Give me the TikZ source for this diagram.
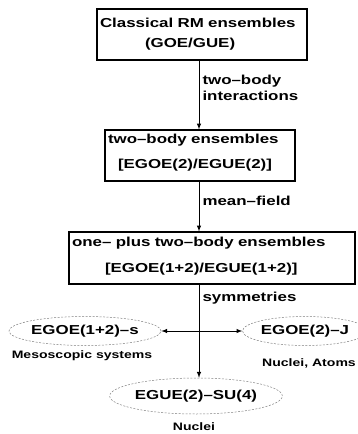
\documentclass[tikz,border=0pt]{standalone}
\usepackage{fontspec}
\setmainfont[FakeStretch=1.3]{Liberation Sans}
\usepackage{tikz}
\usetikzlibrary{arrows}
\usetikzlibrary{arrows.meta}
\usetikzlibrary{shapes.geometric}
\usetikzlibrary{positioning}
\tikzset{>=latex}
\tikzstyle{box} = [draw, line width = 1.2pt, align = left, inner xsep = 3pt, inner ysep = 0pt, font = \bfseries\fontsize{13}{15}\selectfont]
\tikzstyle{oval} = [draw = gray, ellipse, dash pattern = on 2pt off 1.5pt, line width = .5pt, inner sep = 0, font = \bfseries\fontsize{13}{15}\selectfont]
\tikzstyle{lbl} = [draw = none, align = left, inner xsep = 3pt, inner ysep = 1pt, font = \bfseries\fontsize{13}{15}\selectfont]
\tikzstyle{note} = [draw = none, inner sep = 1pt, font = \bfseries\fontsize{10.8}{12}\selectfont]
\tikzstyle{flow} = [-latex, line width = 1pt]

\begin{document}
\begin{tikzpicture}[x = 1pt, y = -1pt]
\useasboundingbox (0, 0) rectangle (358, 434);
\coordinate (spine) at (199, 0);
% the three ensemble boxes
\node [box, text width = 204pt, minimum height = 51pt] (rm) at (202, 34.5) {Classical RM ensembles\\[5pt]\hspace*{45pt}(GOE/GUE)};
\node [box, text width = 184pt, minimum height = 51pt] (two) at (200, 155.5) {two--body ensembles\\[10pt]\hspace*{10pt}[EGOE(2)/EGUE(2)]\rule[-8pt]{0pt}{8pt}};
\node [box, text width = 280pt, minimum height = 52pt] (opt) at (212, 258) {one-- plus two--body ensembles\\[11pt]\hspace*{33pt}[EGOE(1+2)/EGUE(1+2)]\rule[-7pt]{0pt}{7pt}};
% symmetry ensembles
\node [oval, minimum width = 130pt, minimum height = 29pt] (spin) at (85, 331) {EGOE(1+2)--s};
\node [oval, minimum width = 112pt, minimum height = 29pt] (angj) at (305, 331) {EGOE(2)--J};
\node [oval, minimum width = 155pt, minimum height = 36pt] (wig) at (196, 396) {EGUE(2)--SU(4)};
\node [note] (meso) at (82, 356) {Mesoscopic systems};
\node [note, anchor = east] (atoms) at (357, 363) {Nuclei, Atoms};
\node [note] (nuc) at (194, 427) {Nuclei};
\draw [flow] (rm.south -| spine) to node [lbl, right, pos = .39] (inter) {two--body\\[1pt]interactions} (two.north -| spine);
\draw [flow] (two.south -| spine) to node [lbl, right, pos = .39] (mf) {mean--field} (opt.north -| spine);
\draw [flow] (opt.south -| spine) to node [lbl, right, pos = .15] (sym) {symmetries} (wig.north -| spine);
\draw [latex-latex, line width = 1pt] (spin) to (angj);
\end{tikzpicture}
\end{document}
